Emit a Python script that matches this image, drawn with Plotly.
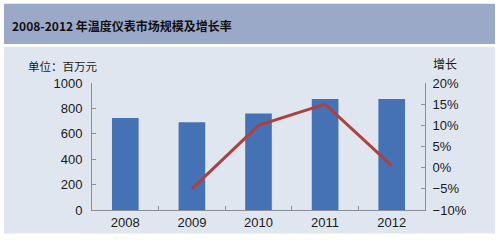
import plotly.graph_objects as go

years = ["2008", "2009", "2010", "2011", "2012"]
market_size = [725, 690, 760, 875, 875]
growth_years = ["2009", "2010", "2011", "2012"]
growth_rate = [-5, 10, 15, 0.5]

title_text = "2008-2012 年温度仪表市场规模及增长率"
left_unit = "单位：百万元"
right_unit = "增长"

FONT = "Liberation Sans Narrow, Liberation Sans, Arial, Noto Sans CJK SC"
AXIS_COLOR = "#8a8f99"

fig = go.Figure()
fig.add_trace(go.Bar(x=years, y=market_size, marker_color="#4472B4",
                     marker_line_width=0, yaxis="y", showlegend=False))
fig.add_trace(go.Scatter(x=growth_years, y=growth_rate, mode="lines",
                         line=dict(color="#B0403F", width=3), yaxis="y2",
                         showlegend=False))

W, H = 500, 242
fig.update_layout(
    width=W, height=H,
    margin=dict(l=92, r=75, t=83, b=29),
    paper_bgcolor="white",
    plot_bgcolor="rgba(0,0,0,0)",
    bargap=0.6,
    font=dict(family=FONT, size=13, color="#1a1a1a"),
    xaxis=dict(showline=True, linecolor=AXIS_COLOR, linewidth=1,
               ticks="inside", tickson="boundaries", ticklen=4,
               tickcolor=AXIS_COLOR, showgrid=False, fixedrange=True),
    yaxis=dict(range=[0, 1000], dtick=200, showline=True, linecolor=AXIS_COLOR,
               ticks="inside", ticklen=4, tickcolor=AXIS_COLOR,
               showgrid=False, zeroline=False, ticklabelstandoff=6),
    yaxis2=dict(range=[-10, 20], dtick=5, ticksuffix="%", overlaying="y",
                side="right", showline=True, linecolor=AXIS_COLOR,
                ticks="inside", ticklen=4, tickcolor=AXIS_COLOR,
                showgrid=False, zeroline=False, ticklabelstandoff=4),
    shapes=[
        dict(type="rect", xref="paper", yref="paper", layer="below",
             x0=-88/333, x1=403/333, y0=(213-2)/130,
             y1=(213-43)/130, fillcolor="#9BA9C9", line_width=0),
        dict(type="rect", xref="paper", yref="paper", layer="below",
             x0=-88/333, x1=403/333, y0=(213-46)/130, y1=(213-237)/130,
             fillcolor="#E0E6F0", line_width=0),
    ],
    annotations=[
        dict(text="<b>" + title_text + "</b>", xref="paper", yref="paper",
             x=-82/333, y=(213-24)/130, xanchor="left", yanchor="middle",
             showarrow=False, font=dict(size=12, color="#111111",
                                        family="Liberation Sans Narrow, Noto Sans CJK SC")),
        dict(text=left_unit, xref="paper", yref="paper",
             x=-66/333, y=(213-66)/130, xanchor="left", yanchor="middle",
             showarrow=False, font=dict(size=11.5, family="Noto Sans CJK SC")),
        dict(text=right_unit, xref="paper", yref="paper",
             x=(431-92)/333, y=(213-63)/130, xanchor="left", yanchor="middle",
             showarrow=False, font=dict(size=12, family="Noto Sans CJK SC")),
    ],
)

fig.write_html("out.html")
